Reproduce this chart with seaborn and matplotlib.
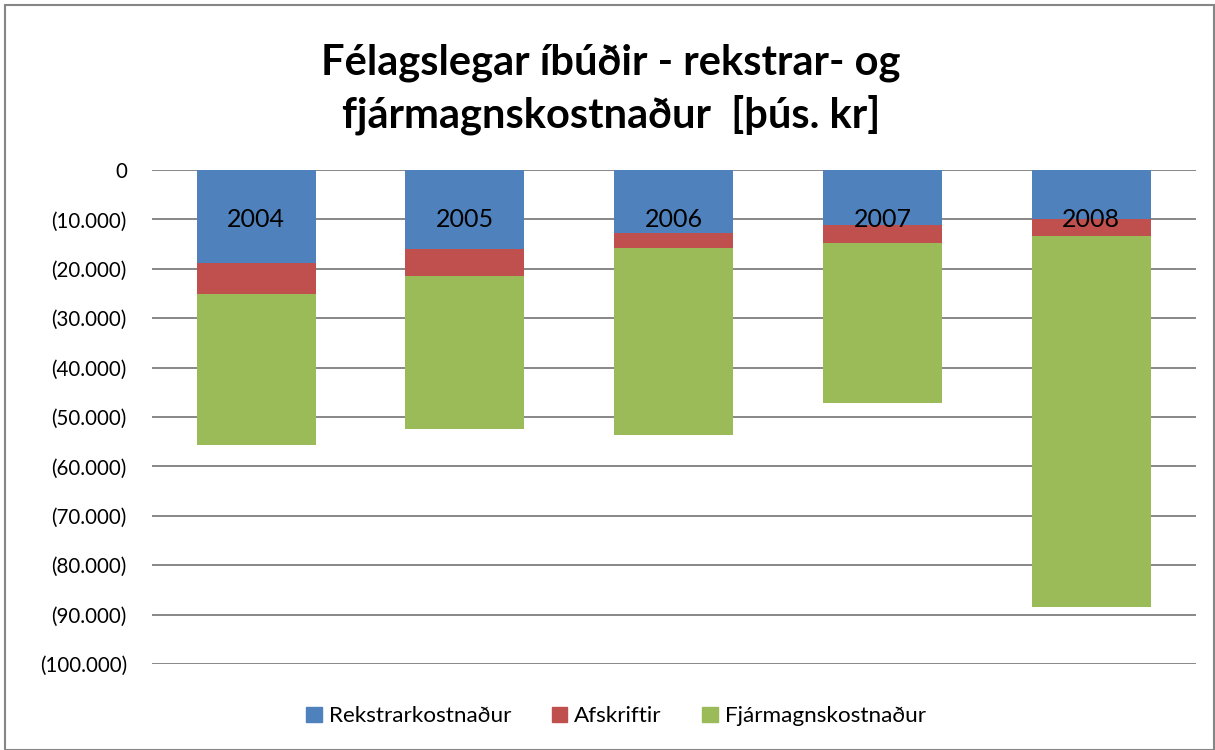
import matplotlib
matplotlib.use('Agg')
import matplotlib.pyplot as plt
import matplotlib.ticker as mticker
from matplotlib.patches import Rectangle
import seaborn as sns
import numpy as np
import pandas as pd

# gögn (þús. kr), lesin af myndinni
years = ['2004', '2005', '2006', '2007', '2008']
rekstrar = [18900, 15900, 12700, 11200, 10000]
afskriftir = [6100, 5600, 3100, 3500, 3400]
fjarmagn = [30700, 31000, 37900, 32500, 75000]

series_names = ['Rekstrarkostnaður', 'Afskriftir', 'Fjármagnskostnaður']
colors = ['#4F81BD', '#C0504D', '#9BBB59']

sns.set_theme(style='white')
plt.rcParams['font.family'] = ['Lato', 'DejaVu Sans']
plt.rcParams['text.color'] = 'black'

df = pd.DataFrame({'year': years, 'r': rekstrar, 'a': afskriftir, 'f': fjarmagn})
df['c1'] = -df['r']
df['c2'] = -(df['r'] + df['a'])
df['c3'] = -(df['r'] + df['a'] + df['f'])

fig = plt.figure(figsize=(12.15, 7.5), dpi=100)
ax = fig.add_axes([0.125, 0.1147, 0.859, 0.6586])

# staflaðar súlur: dýpsta fyrst
for col, c in zip(['c3', 'c2', 'c1'], colors[::-1]):
    sns.barplot(data=df, x='year', y=col, color=c, width=0.57, ax=ax,
                saturation=1, edgecolor='none', zorder=3)

for i, y in enumerate(years):
    ax.text(i, -10000, y, ha='center', va='center', fontsize=18, color='black', zorder=5)

ax.set_ylim(-100000, 0)
ax.set_xlim(-0.5, 4.5)
ax.yaxis.set_major_locator(mticker.MultipleLocator(10000))
ax.yaxis.set_major_formatter(mticker.FuncFormatter(
    lambda v, p: '0' if abs(v) < 1 else '({:,.0f})'.format(abs(v)).replace(',', '.')))
ax.grid(axis='y', color='#878787', linewidth=1.4, zorder=0)
ax.set_axisbelow(True)
ax.set_xticks([])
ax.set_xlabel('')
ax.set_ylabel('')
ax.tick_params(axis='y', length=0, pad=18, labelsize=14.8, labelcolor='black')
for s in ax.spines.values():
    s.set_visible(False)

fig.text(0.503, 0.917, 'Félagslegar íbúðir - rekstrar- og', ha='center', va='center',
         fontsize=30, fontweight='bold', color='black')
fig.text(0.503, 0.847, 'fjármagnskostnaður  [þús. kr]', ha='center', va='center',
         fontsize=30, fontweight='bold', color='black')

handles = [Rectangle((0, 0), 1, 1, color=c) for c in colors]
fig.legend(handles, series_names, loc='center', bbox_to_anchor=(0.507, 0.045), ncol=3,
           frameon=False, fontsize=16.2, handlelength=0.7, handleheight=0.7,
           handletextpad=0.3, columnspacing=1.8)

fig.patches.append(Rectangle((0.004, 0.0), 0.995, 0.994, transform=fig.transFigure,
                             fill=False, edgecolor='#868686', linewidth=1.5))

fig.savefig('out.png', dpi=100)
